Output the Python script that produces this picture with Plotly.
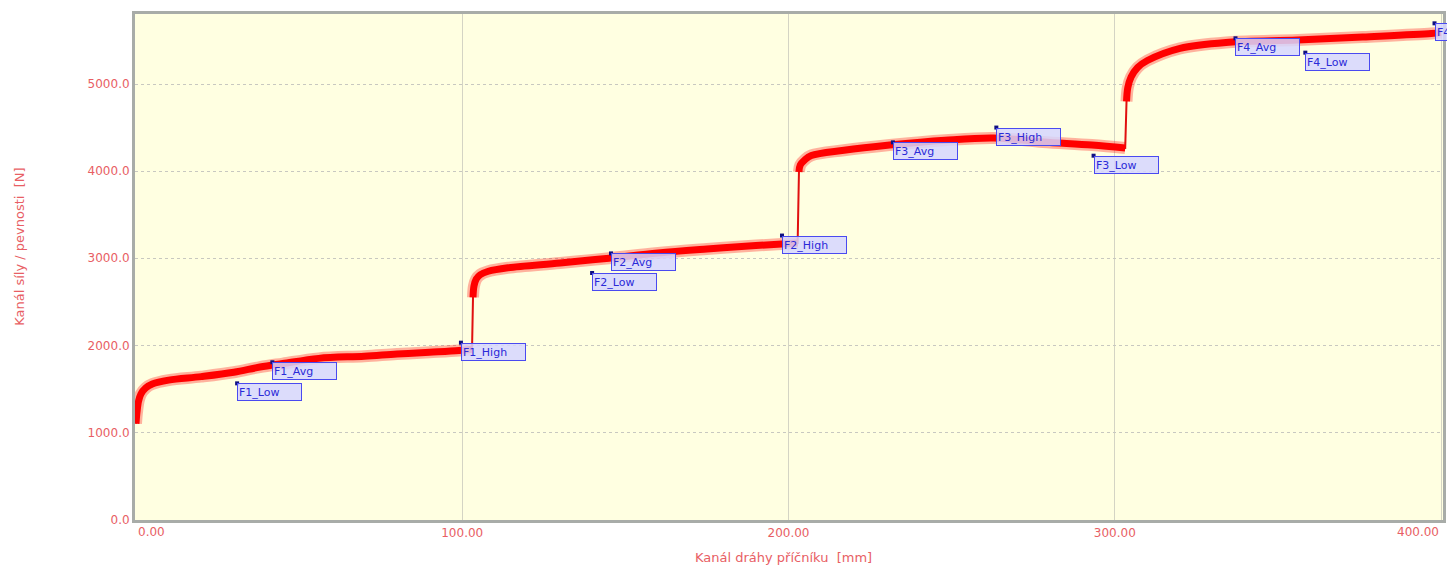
import plotly.graph_objects as go

# ---- data ----
seg1_x = [0.0, 0.3, 0.8, 1.5, 3.0, 5.0, 10.0, 20.0, 30.0, 38.0, 45.0, 56.0, 70.0, 80.0, 90.0, 99.0, 103.0]
seg1_y = [1100, 1230, 1360, 1440, 1510, 1555, 1600, 1640, 1690, 1750, 1790, 1850, 1875, 1900, 1920, 1940, 1955]

seg2_x = [103.3, 103.6, 104.3, 105.5, 108.0, 114.0, 130.0, 145.0, 160.0, 175.0, 190.0, 202.8]
seg2_y = [2550, 2680, 2760, 2810, 2850, 2890, 2945, 3000, 3060, 3105, 3145, 3175]

seg3_x = [203.2, 203.6, 205.0, 207.0, 217.0, 231.0, 248.0, 263.0, 278.0, 293.0, 303.2]
seg3_y = [3990, 4070, 4130, 4180, 4240, 4300, 4355, 4380, 4335, 4300, 4265]

seg4_x = [303.6, 304.0, 305.0, 307.0, 310.0, 320.0, 335.0, 356.0, 376.0, 397.0, 400.0]
seg4_y = [4800, 4960, 5080, 5190, 5270, 5410, 5480, 5505, 5540, 5580, 5590]

marker_names = ["F1_Low", "F1_Avg", "F1_High", "F2_Low", "F2_Avg", "F2_High",
                "F3_Avg", "F3_High", "F3_Low", "F4_Avg", "F4_Low", "F4_High"]
marker_x = [31.0, 41.8, 99.6, 139.8, 145.6, 198.0, 232.0, 263.7, 293.5, 337.0, 358.4, 398.0]
marker_y = [1563, 1805, 2030, 2830, 3055, 3260, 4330, 4500, 4177, 5525, 5360, 5697]

x_title = "Kanál dráhy příčníku  [mm]"
y_title = "Kanál síly / pevnosti  [N]"

x_ticks = [0, 100, 200, 300, 400]
y_ticks = [0, 1000, 2000, 3000, 4000, 5000]

RED = "#FF0000"
LABEL_RED = "#E85E64"
FONT = "DejaVu Sans, Verdana, sans-serif"

fig = go.Figure()

all_x = seg1_x + seg2_x + seg3_x + seg4_x
all_y = seg1_y + seg2_y + seg3_y + seg4_y

# thin connecting line (jumps included)
fig.add_trace(go.Scatter(x=all_x, y=all_y, mode="lines",
                         line=dict(color="#E01010", width=2), hoverinfo="skip"))

# thick noisy band for each plateau
for sx, sy in [(seg1_x, seg1_y), (seg2_x, seg2_y), (seg3_x, seg3_y), (seg4_x, seg4_y)]:
    fig.add_trace(go.Scatter(x=sx, y=sy, mode="lines",
                             line=dict(color="rgba(255,0,0,0.30)", width=12, shape="spline"),
                             hoverinfo="skip"))
    fig.add_trace(go.Scatter(x=sx, y=sy, mode="lines",
                             line=dict(color=RED, width=7, shape="spline"),
                             hoverinfo="skip"))

# marker points
fig.add_trace(go.Scatter(x=marker_x, y=marker_y, mode="markers",
                         marker=dict(symbol="square", size=4, color="#101080"),
                         hoverinfo="skip", cliponaxis=False))

for name, mx, my in zip(marker_names, marker_x, marker_y):
    fig.add_annotation(x=mx, y=my, xref="x", yref="y", text=name, showarrow=False,
                       xanchor="left", yanchor="top", align="left",
                       width=61, height=14, borderpad=1, borderwidth=1,
                       bordercolor="#4A4AF0", bgcolor="rgba(214,214,255,0.85)",
                       font=dict(family=FONT, size=11, color="#2A2AD8"))

# end tick labels, kept inside the plot width as in the reference
for xv, anchor in [(x_ticks[0], "left"), (x_ticks[-1], "right")]:
    fig.add_annotation(x=xv, y=0, xref="x", yref="paper", text=f"{xv:.2f}",
                       showarrow=False, xanchor=anchor, yanchor="top", yshift=-3,
                       font=dict(family=FONT, size=12, color=LABEL_RED))

# axis titles
fig.add_annotation(x=0.5, y=0, xref="x domain", yref="paper", yanchor="middle",
                   text=x_title, showarrow=False,
                   font=dict(family=FONT, size=13, color=LABEL_RED),
                   xshift=-6, yshift=-37)
fig.add_annotation(x=0, y=0.54, xref="paper", yref="paper", xanchor="center", yanchor="middle",
                   text=y_title, showarrow=False, textangle=-90, xshift=-115,
                   font=dict(family=FONT, size=13, color=LABEL_RED))

fig.update_layout(
    width=1447, height=567,
    margin=dict(l=135, r=1, t=14, b=47),
    paper_bgcolor="white",
    plot_bgcolor="#FFFFE1",
    showlegend=False,
    font=dict(family=FONT, size=12, color=LABEL_RED),
)

fig.update_xaxes(range=[-0.3, 400.6], tickvals=x_ticks,
                 ticktext=["" if v in (x_ticks[0], x_ticks[-1]) else f"{v:.2f}" for v in x_ticks],
                 showgrid=True, gridcolor="#D4D4C4", gridwidth=1,
                 showline=True, linecolor="#A8ACA8", linewidth=3, mirror=True,
                 zeroline=False, ticks="", tickfont=dict(family=FONT, size=12, color=LABEL_RED))
fig.update_yaxes(range=[-6, 5804], tickvals=y_ticks, tickformat=".1f",
                 showgrid=True, gridcolor="#C8C8C0", gridwidth=1, griddash="dot",
                 showline=True, linecolor="#A8ACA8", linewidth=3, mirror=True,
                 zeroline=False, ticks="", tickfont=dict(family=FONT, size=12, color=LABEL_RED))

fig.write_html("out.html")
